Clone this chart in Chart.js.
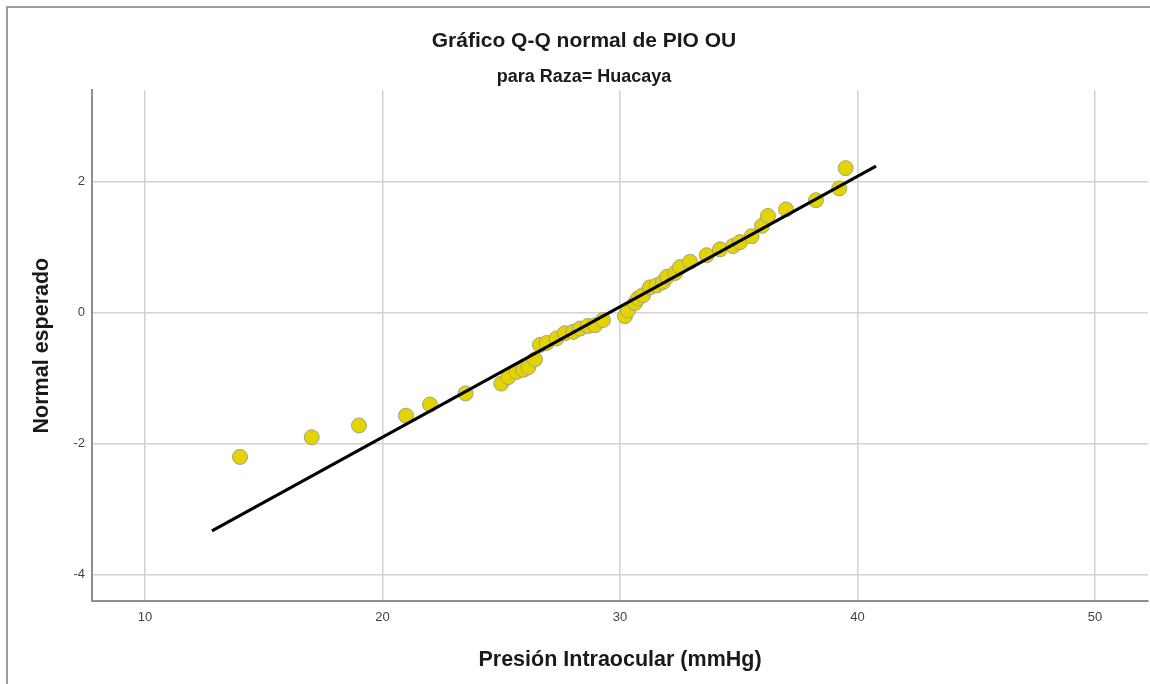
<!DOCTYPE html>
<html>
<head>
<meta charset="utf-8">
<script src="https://cdn.jsdelivr.net/npm/chart.js@4"></script>
<style>
  html, body { margin: 0; padding: 0; background: #ffffff; }
  #wrap { width: 1150px; height: 684px; position: relative; }
</style>
</head>
<body>
<div id="wrap"><canvas id="c" width="1150" height="684"></canvas></div>
<script>
const pioValues = [14.00, 17.02, 19.01, 20.99, 22.00, 23.50, 25.00, 25.30, 25.65, 25.93, 26.14, 26.42,
  26.63, 26.91, 27.33, 27.68, 28.03, 28.32, 28.65, 28.95, 29.28, 30.21, 30.34, 30.63, 30.76, 30.97,
  31.26, 31.55, 31.81, 31.98, 32.32, 32.53, 32.95, 33.65, 34.21, 34.76, 35.05, 35.54, 35.98, 36.23,
  36.99, 38.25, 39.23, 39.50];
const expectedNormal = [-2.20, -1.90, -1.72, -1.57, -1.40, -1.23, -1.08, -0.98, -0.90, -0.87, -0.83, -0.71,
  -0.49, -0.46, -0.39, -0.31, -0.29, -0.24, -0.20, -0.19, -0.11, -0.05, 0.04, 0.15, 0.22, 0.27,
  0.39, 0.42, 0.47, 0.55, 0.61, 0.70, 0.78, 0.88, 0.97, 1.02, 1.08, 1.17, 1.33, 1.48,
  1.58, 1.72, 1.90, 2.21];
// Reference line end points
const refLineX = [12.82, 40.78];
const refLineY = [-3.33, 2.24];
// Tick labels
const xTicks = [10, 20, 30, 40, 50];
const yTicks = [-4, -2, 0, 2];

const titleText = 'Gráfico Q-Q normal de PIO OU';
const subtitleText = 'para Raza= Huacaya';
const xTitle = 'Presión Intraocular (mmHg)';
const yTitle = 'Normal esperado';

const pointData = pioValues.map((v, i) => ({ x: v, y: expectedNormal[i] }));
const lineData = refLineX.map((v, i) => ({ x: v, y: refLineY[i] }));

const framePlugin = {
  id: 'frame',
  beforeDraw(chart) {
    const ctx = chart.ctx;
    ctx.save();
    ctx.strokeStyle = '#9b9b9b';
    ctx.lineWidth = 2;
    ctx.beginPath();
    ctx.moveTo(7, 684);
    ctx.lineTo(7, 7);
    ctx.lineTo(1150, 7);
    ctx.stroke();
    ctx.restore();
  }
};

const FONT = 'Arial, "Liberation Sans", sans-serif';

new Chart(document.getElementById('c'), {
  type: 'scatter',
  data: {
    datasets: [
      {
        type: 'line',
        label: 'Referencia',
        data: lineData,
        borderColor: '#000000',
        borderWidth: 3,
        pointRadius: 0,
        fill: false,
        order: 0
      },
      {
        label: 'PIO OU',
        data: pointData,
        backgroundColor: '#e3d400',
        borderColor: '#a3a08a',
        borderWidth: 1,
        pointRadius: 7.5,
        pointHoverRadius: 7.5,
        order: 1
      }
    ]
  },
  options: {
    responsive: false,
    animation: false,
    layout: { autoPadding: false, padding: { left: 20, right: 2, top: 8, bottom: 0 } },
    plugins: {
      legend: { display: false },
      tooltip: { enabled: false },
      title: {
        display: true,
        text: titleText,
        color: '#1a1a1a',
        font: { family: FONT, size: 21, weight: 'bold', lineHeight: 1.2 },
        padding: { top: 21, bottom: 0 }
      },
      subtitle: {
        display: true,
        text: subtitleText,
        color: '#1a1a1a',
        font: { family: FONT, size: 18, weight: 'bold', lineHeight: 1.2 },
        padding: { top: 12, bottom: 2.4 }
      }
    },
    scales: {
      x: {
        type: 'linear',
        min: 7.77,
        max: 52.23,
        afterBuildTicks(scale) { scale.ticks = xTicks.map(v => ({ value: v })); },
        afterFit(scale) { scale.height = 83; scale.paddingLeft = 0; scale.paddingRight = 0; },
        grid: { color: '#d2d2d2', lineWidth: 1.5, drawTicks: false },
        border: { color: '#8f8f8f', width: 2 },
        ticks: { color: '#444444', padding: 9, font: { family: FONT, size: 13 } },
        title: {
          display: true,
          text: xTitle,
          color: '#1a1a1a',
          font: { family: FONT, size: 21.5, weight: 'bold', lineHeight: 1.2 },
          padding: { top: 0, bottom: 11.1 }
        }
      },
      y: {
        type: 'linear',
        min: -4.4,
        max: 3.4,
        afterBuildTicks(scale) { scale.ticks = yTicks.map(v => ({ value: v })); },
        afterFit(scale) { scale.width = 72; },
        grid: { color: '#d2d2d2', lineWidth: 1.5, drawTicks: false },
        border: { color: '#8f8f8f', width: 2 },
        ticks: { color: '#444444', padding: 7, font: { family: FONT, size: 13 } },
        title: {
          display: true,
          text: yTitle,
          color: '#1a1a1a',
          font: { family: FONT, size: 21.5, weight: 'bold', lineHeight: 1.2 },
          padding: { top: 9.1, bottom: 0 }
        }
      }
    }
  },
  plugins: [framePlugin]
});
</script>
</body>
</html>
